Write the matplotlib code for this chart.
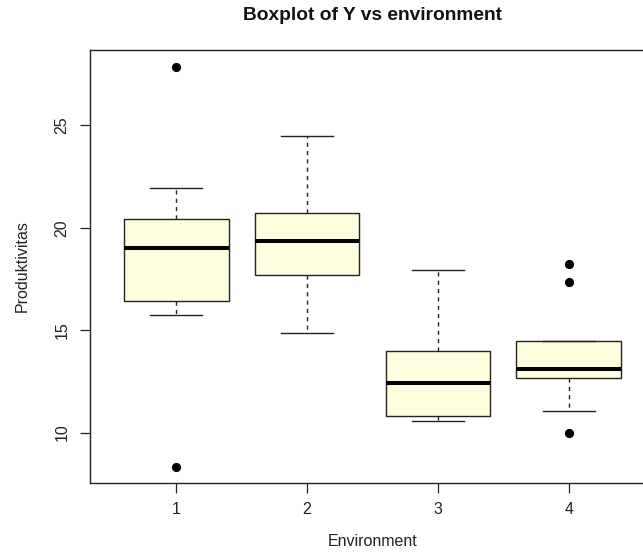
import matplotlib
matplotlib.use("Agg")
import matplotlib.pyplot as plt

plt.rcParams["font.family"] = ["Liberation Sans", "DejaVu Sans"]

# Five-number summaries per environment, plus points beyond the whiskers
groups  = ["1", "2", "3", "4"]
whislo  = [15.75, 14.85, 10.54, 11.07]
q1      = [16.41, 17.67, 10.83, 12.67]
median  = [18.99, 19.36, 12.44, 13.11]
q3      = [20.45, 20.73, 13.96, 14.45]
whishi  = [21.95, 24.46, 17.94, 14.45]
fliers  = [[27.86, 8.33], [], [], [18.21, 17.33, 10.0]]

stats = [
    {"label": g, "whislo": lo, "q1": a, "med": m, "q3": b, "whishi": hi, "fliers": f}
    for g, lo, a, m, b, hi, f in zip(groups, whislo, q1, median, q3, whishi, fliers)
]

W, H, DPI = 643, 552, 100
fig = plt.figure(figsize=(W / DPI, H / DPI), dpi=DPI)
# plot region runs past the right edge of the canvas
ax = fig.add_axes([90 / W, 1 - 482.7 / H, (655 - 90) / W, (482.7 - 50) / H])

ax.bxp(
    stats,
    widths=0.8,
    capwidths=0.4,
    patch_artist=True,
    boxprops={"facecolor": "#FFFFE0", "edgecolor": "#222222", "linewidth": 1.0},
    medianprops={"color": "black", "linewidth": 2.9, "solid_capstyle": "butt"},
    whiskerprops={"color": "#222222", "linewidth": 1.0, "linestyle": (0, (3, 3))},
    capprops={"color": "#222222", "linewidth": 1.0},
    flierprops={"marker": "o", "markerfacecolor": "black", "markeredgecolor": "black",
                "markersize": 5.6, "linestyle": "none"},
)

ax.set_xlim(0.34, 4.66)
ax.set_ylim(7.55, 28.68)
ax.set_yticks([10, 15, 20, 25])
ax.set_yticklabels(["10", "15", "20", "25"], rotation=90, va="center")

for s in ax.spines.values():
    s.set_color("#222222")
    s.set_linewidth(1.0)

ax.tick_params(axis="both", length=7.2, width=0.9, color="#222222",
               labelsize=11.5, labelcolor="#222222")
ax.tick_params(axis="x", pad=6.5)
ax.tick_params(axis="y", pad=7.5)

cx = (90 + 655) / 2 / W
fig.text(cx, 1 - 16 / H, "Boxplot of Y vs environment", ha="center", va="center",
         fontsize=13.8, fontweight="bold", color="#111111")
fig.text(cx, 1 - 541 / H, "Environment", ha="center", va="center",
         fontsize=11.5, color="#222222")
fig.text(22 / W, 1 - 266 / H, "Produktivitas", ha="center", va="center",
         rotation=90, fontsize=11.5, color="#222222")

fig.savefig("out.png", dpi=DPI)
